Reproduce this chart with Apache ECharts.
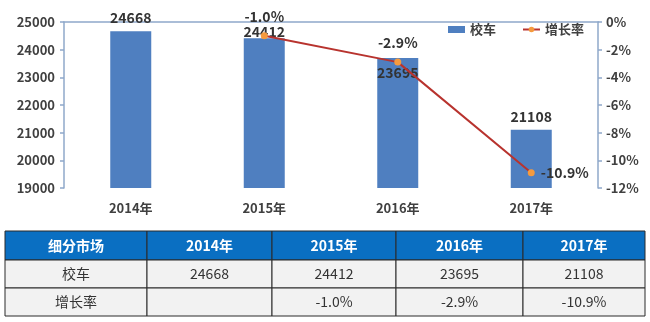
<!DOCTYPE html>
<html>
<head>
<meta charset="utf-8">
<script src="https://cdn.jsdelivr.net/npm/echarts@6/dist/echarts.min.js"></script>
<style>
  html, body { margin: 0; padding: 0; background: #fff; }
  #chart { width: 650px; height: 322px; }
</style>
</head>
<body>
<div id="chart"></div>
<script>
// School bus sales and year-on-year growth, 2014-2017
const years = ['2014年', '2015年', '2016年', '2017年'];
const busSales = [24668, 24412, 23695, 21108];
const growthRate = [null, -1.0, -2.9, -10.9];
const leftTicks = [19000, 25000, 1000];
const rightTicks = [-12, 0, 2];
const tableHead = '细分市场';
const rowNames = ['校车', '增长率'];

const FONT = '"Noto Sans CJK SC", "Noto Sans", sans-serif';
const AXIS_COLOR = '#8FA8CA';
const TEXT_COLOR = '#404040';

// ---- table below the plot, built from the same arrays ----
const colX = [5, 147, 272, 396, 523, 645];
const rowY = [231, 260, 288, 316];
const fmtRate = v => (v == null ? '' : v.toFixed(1) + '%');
const tableRows = [
  [tableHead].concat(years),
  [rowNames[0]].concat(busSales.map(String)),
  [rowNames[1]].concat(growthRate.map(fmtRate))
];
const tableGraphics = [];
tableRows.forEach((row, r) => {
  row.forEach((txt, c) => {
    const x = colX[c], y = rowY[r];
    const w = colX[c + 1] - x, h = rowY[r + 1] - y;
    tableGraphics.push({
      type: 'rect',
      shape: { x: x, y: y, width: w, height: h },
      style: { fill: r === 0 ? '#0A6FC2' : '#F2F2F2', stroke: '#2a2a2a', lineWidth: 1 }
    });
    tableGraphics.push({
      type: 'text',
      x: x + w / 2, y: y + h / 2,
      style: {
        text: txt,
        fill: r === 0 ? '#ffffff' : '#333333',
        font: (r === 0 ? 'bold ' : '') + '14px ' + FONT,
        align: 'center', verticalAlign: 'middle'
      }
    });
  });
});

const chart = echarts.init(document.getElementById('chart'));
chart.setOption({
  backgroundColor: '#ffffff',
  animation: false,
  textStyle: { fontFamily: FONT },
  grid: { left: 64, right: 52, top: 22, bottom: 134 },
  legend: {
    left: 443, top: 18,
    itemGap: 26,
    itemWidth: 17, itemHeight: 7,
    textStyle: { color: '#404040', fontSize: 13, fontWeight: 'bold', fontFamily: FONT },
    data: [
      { name: '校车', icon: 'rect' },
      { name: '增长率' }
    ]
  },
  xAxis: {
    type: 'category',
    data: years,
    axisLine: { lineStyle: { color: AXIS_COLOR, width: 1.5 } },
    axisTick: { length: 5, lineStyle: { color: AXIS_COLOR, width: 1.5 } },
    axisLabel: { color: TEXT_COLOR, fontSize: 13, fontWeight: 'bold', margin: 14 }
  },
  yAxis: [
    {
      type: 'value',
      min: leftTicks[0], max: leftTicks[1], interval: leftTicks[2],
      splitLine: { show: false },
      axisLine: { show: true, lineStyle: { color: AXIS_COLOR, width: 1.5 } },
      axisTick: { show: true, length: 4, lineStyle: { color: AXIS_COLOR, width: 1.5 } },
      axisLabel: { color: TEXT_COLOR, fontSize: 13, fontWeight: 'bold', margin: 9, formatter: v => String(v) }
    },
    {
      type: 'value',
      min: rightTicks[0], max: rightTicks[1], interval: rightTicks[2],
      splitLine: { show: false },
      axisLine: { show: true, lineStyle: { color: AXIS_COLOR, width: 1.5 } },
      axisTick: { show: true, length: 4, lineStyle: { color: AXIS_COLOR, width: 1.5 } },
      axisLabel: { color: TEXT_COLOR, fontSize: 13, fontWeight: 'bold', margin: 8, formatter: '{value}%' }
    }
  ],
  series: [
    {
      name: '校车',
      type: 'bar',
      barWidth: 41,
      itemStyle: { color: '#4F7FC0' },
      label: {
        show: true, position: 'top', distance: 6,
        color: '#333333', fontSize: 14, fontWeight: 'bold'
      },
      data: busSales.map((v, i) => {
        if (i === 1) return { value: v, label: { distance: 0 } };
        if (i === 2) return { value: v, label: { position: 'insideTop', distance: 8 } };
        return v;
      })
    },
    {
      name: '增长率',
      type: 'line',
      yAxisIndex: 1,
      symbol: 'circle',
      symbolSize: 7,
      lineStyle: { color: '#B8332E', width: 2 },
      itemStyle: { color: '#F59A3E' },
      label: {
        show: true, position: 'top', distance: 9,
        color: '#333333', fontSize: 14, fontWeight: 'bold',
        formatter: p => fmtRate(p.value)
      },
      data: growthRate.map((v, i) => {
        if (i === 3) return { value: v, label: { position: 'right', distance: 6 } };
        return v;
      })
    }
  ],
  graphic: tableGraphics
});
</script>
</body>
</html>
